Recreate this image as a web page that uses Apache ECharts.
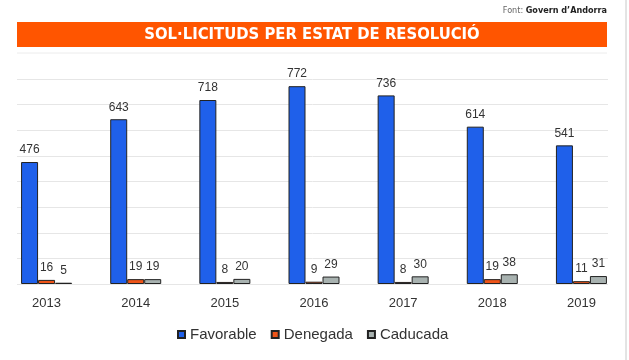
<!DOCTYPE html>
<html>
<head>
<meta charset="utf-8">
<script src="https://cdn.jsdelivr.net/npm/echarts@6/dist/echarts.min.js"></script>
<style>html,body{margin:0;padding:0;background:#fff;}#c{width:629px;height:360px;}</style>
</head>
<body>
<div id="c"></div>
<script>
var categories = ['2013','2014','2015','2016','2017','2018','2019'];
var favorable = [476, 643, 718, 772, 736, 614, 541];
var denegada = [16, 19, 8, 9, 8, 19, 11];
var caducada = [5, 19, 20, 29, 30, 38, 31];
var seriesNames = ['Favorable', 'Denegada', 'Caducada'];
var titleText = 'SOL·LICITUDS PER ESTAT DE RESOLUCIÓ';

var chart = echarts.init(document.getElementById('c'), null, {renderer: 'canvas'});
var font = 'Liberation Sans, Arial, sans-serif';
var narrow = 'Liberation Sans Narrow, DejaVu Sans Condensed, Liberation Sans, sans-serif';

function mk(name, data, color) {
  return {
    name: name, type: 'bar', data: data, xAxisIndex: 1, yAxisIndex: 1,
    barWidth: 17, barGap: '0%',
    itemStyle: {color: color, borderColor: '#222', borderWidth: 1},
    label: {show: true, position: 'top', distance: 6, color: '#333', fontSize: 12, fontFamily: font}
  };
}

chart.setOption({
  animation: false,
  backgroundColor: '#fff',
  grid: [
    {left: 17, right: 21, top: 79, bottom: 76},
    {left: 2, right: 3, top: 79, bottom: 76}
  ],
  xAxis: [
    {gridIndex: 0, type: 'value', show: false, min: 0, max: 1},
    {gridIndex: 1, type: 'category', data: categories,
      axisLine: {show: false}, axisTick: {show: false},
      axisLabel: {color: '#333', fontSize: 13, fontFamily: font, margin: 13}}
  ],
  yAxis: [
    {gridIndex: 0, type: 'value', min: 0, max: 800, interval: 100,
      axisLabel: {show: false}, axisLine: {show: false}, axisTick: {show: false},
      splitLine: {show: true, lineStyle: {color: '#e6e6e6', width: 1}}},
    {gridIndex: 1, type: 'value', min: 0, max: 800, interval: 100, show: false,
      splitLine: {show: false}}
  ],
  legend: {
    data: seriesNames, left: 172, top: 322,
    itemWidth: 7, itemHeight: 7, icon: 'rect', itemGap: 14,
    textStyle: {color: '#333', fontSize: 15, fontFamily: font}
  },
  graphic: [
    {type: 'rect', shape: {x: 17, y: 22, width: 590, height: 25}, style: {fill: '#ff5500'}},
    {type: 'text', x: 312, y: 35, style: {text: titleText, fill: '#fff', fontSize: 16.5, fontWeight: 'bold',
      fontFamily: narrow, align: 'center', verticalAlign: 'middle'}},
    {type: 'line', shape: {x1: 17, y1: 53, x2: 607, y2: 53}, style: {stroke: '#ececec', lineWidth: 1}},
    {type: 'line', shape: {x1: 626, y1: 0, x2: 626, y2: 360}, style: {stroke: '#c8c8c8', lineWidth: 1}},
    {type: 'text', x: 607, y: 11, style: {
      text: '{a|Font: }{b|Govern d\u2019Andorra}', align: 'right', verticalAlign: 'middle',
      rich: {
        a: {fontSize: 9, fill: '#666', fontFamily: narrow},
        b: {fontSize: 9, fill: '#222', fontWeight: 'bold', fontFamily: narrow}
      }}}
  ],
  series: [
    mk(seriesNames[0], favorable, '#1f60ea'),
    mk(seriesNames[1], denegada, '#ee5418'),
    mk(seriesNames[2], caducada, '#a8b2b0')
  ]
});
</script>
</body>
</html>
